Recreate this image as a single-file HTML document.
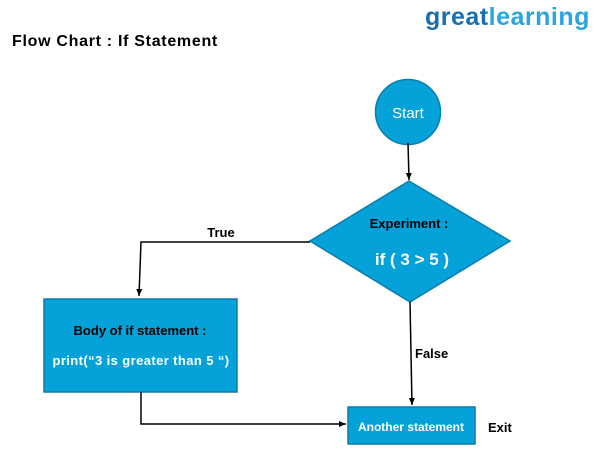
<!DOCTYPE html>
<html><head><style>
body{margin:0;background:#fff;}
svg text{font-family:"Liberation Sans",Arial,sans-serif;}
</style></head><body>
<svg width="603" height="455" xmlns="http://www.w3.org/2000/svg">
<defs><marker id="a" markerWidth="8" markerHeight="8" refX="7" refY="4" orient="auto" markerUnits="userSpaceOnUse"><path d="M0,1 L7,4 L0,7 z" fill="#000"/></marker></defs>
<text x="425" y="25" font-size="25" font-weight="bold" fill="#1a6faf" letter-spacing="0.5">great<tspan fill="#2aa5de">learning</tspan></text>
<text x="12" y="46" font-size="16" font-weight="bold" fill="#000" letter-spacing="0.7">Flow Chart : If Statement</text>
<circle cx="408" cy="112" r="32.5" fill="#05a1d9" stroke="#0a7eab" stroke-width="1.5"/>
<text x="408" y="118" font-size="15" fill="#fff" text-anchor="middle">Start</text>
<line x1="408" y1="143" x2="409" y2="180" stroke="#000" stroke-width="1.5" marker-end="url(#a)"/>
<polygon points="409,181 510,241 410,302 310,241" fill="#05a1d9" stroke="#0a7eab" stroke-width="1.5"/>
<text x="409" y="228" font-size="13" font-weight="bold" fill="#000" text-anchor="middle">Experiment :</text>
<text x="412" y="265" font-size="17" font-weight="bold" fill="#fff" text-anchor="middle">if ( 3 &gt; 5 )</text>
<polyline points="310,242 141,242 139,296" fill="none" stroke="#000" stroke-width="1.5" marker-end="url(#a)"/>
<text x="221" y="237" font-size="13" font-weight="bold" fill="#000" text-anchor="middle">True</text>
<rect x="44" y="299" width="193" height="93" fill="#05a1d9" stroke="#0a7eab" stroke-width="1.5"/>
<text x="140" y="335" font-size="13" font-weight="bold" fill="#000" text-anchor="middle">Body of if statement :</text>
<text x="141" y="365" font-size="13" font-weight="bold" fill="#fff" text-anchor="middle" letter-spacing="0.4">print(“3 is greater than 5 “)</text>
<line x1="410" y1="302" x2="412" y2="405" stroke="#000" stroke-width="1.5" marker-end="url(#a)"/>
<text x="415" y="358" font-size="13" font-weight="bold" fill="#000">False</text>
<polyline points="141,392 141,424 346,424" fill="none" stroke="#000" stroke-width="1.5" marker-end="url(#a)"/>
<rect x="348" y="407" width="127" height="37" fill="#05a1d9" stroke="#0a7eab" stroke-width="1.5"/>
<text x="411" y="431" font-size="12" font-weight="bold" fill="#fff" text-anchor="middle">Another statement</text>
<text x="488" y="432" font-size="13" font-weight="bold" fill="#000">Exit</text>
</svg>
</body></html>
